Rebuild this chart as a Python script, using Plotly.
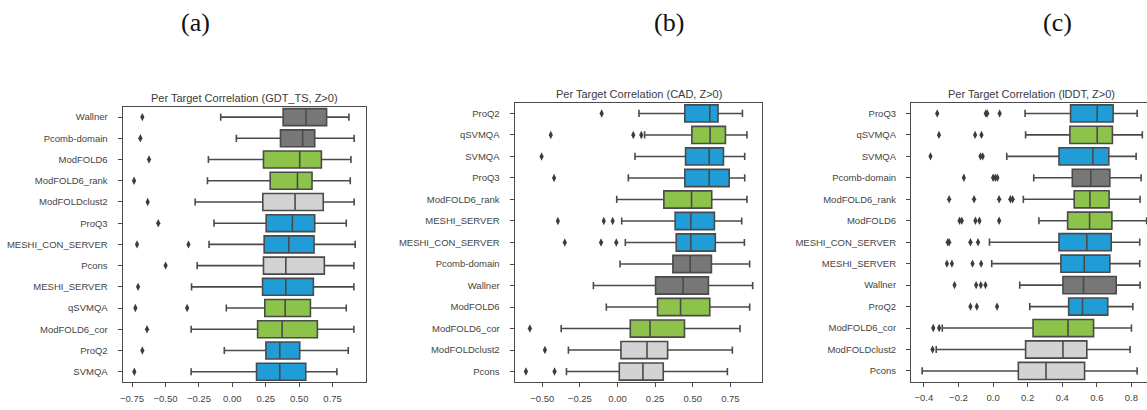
import plotly.graph_objects as go

# ---------------- data ----------------
# Panel (a): GDT_TS
cats_a = ["Wallner", "Pcomb-domain", "ModFOLD6", "ModFOLD6_rank", "ModFOLDclust2", "ProQ3",
          "MESHI_CON_SERVER", "Pcons", "MESHI_SERVER", "qSVMQA", "ModFOLD6_cor", "ProQ2", "SVMQA"]
lo_a  = [-0.087, 0.030, -0.179, -0.186, -0.278, -0.137, -0.174, -0.263, -0.305, -0.045, -0.308, -0.060, -0.308]
q1_a  = [0.380, 0.360, 0.233, 0.283, 0.228, 0.253, 0.238, 0.233, 0.226, 0.243, 0.189, 0.251, 0.181]
med_a = [0.551, 0.526, 0.504, 0.487, 0.469, 0.449, 0.422, 0.400, 0.400, 0.395, 0.372, 0.355, 0.355]
q3_a  = [0.705, 0.616, 0.666, 0.596, 0.680, 0.616, 0.611, 0.688, 0.606, 0.584, 0.636, 0.504, 0.549]
hi_a  = [0.872, 0.911, 0.887, 0.882, 0.911, 0.852, 0.919, 0.909, 0.909, 0.852, 0.909, 0.867, 0.782]
out_a = [[-0.673], [-0.688], [-0.623], [-0.735], [-0.633], [-0.554], [-0.713, -0.328], [-0.499],
         [-0.705], [-0.725, -0.338], [-0.638], [-0.673], [-0.733]]

# Panel (b): CAD
cats_b = ["ProQ2", "qSVMQA", "SVMQA", "ProQ3", "ModFOLD6_rank", "MESHI_SERVER", "MESHI_CON_SERVER",
          "Pcomb-domain", "Wallner", "ModFOLD6", "ModFOLD6_cor", "ModFOLDclust2", "Pcons"]
lo_b  = [0.143, 0.180, 0.116, 0.072, -0.005, 0.028, 0.052, 0.017, -0.160, -0.074, -0.374, -0.326, -0.339]
q1_b  = [0.447, 0.494, 0.452, 0.447, 0.308, 0.383, 0.390, 0.368, 0.253, 0.266, 0.085, 0.023, 0.012]
med_b = [0.613, 0.615, 0.609, 0.609, 0.492, 0.487, 0.487, 0.483, 0.436, 0.419, 0.216, 0.196, 0.169]
q3_b  = [0.668, 0.717, 0.704, 0.742, 0.626, 0.644, 0.650, 0.624, 0.604, 0.613, 0.445, 0.333, 0.304]
hi_b  = [0.830, 0.860, 0.845, 0.845, 0.860, 0.825, 0.843, 0.878, 0.898, 0.878, 0.814, 0.763, 0.730]
out_b = [[-0.105], [-0.443, 0.105, 0.158], [-0.504], [-0.421], [], [-0.396, -0.091, -0.032],
         [-0.350, -0.109, -0.008], [], [], [], [-0.582], [-0.482], [-0.608, -0.418]]

# Panel (c): lDDT
cats_c = ["ProQ3", "qSVMQA", "SVMQA", "Pcomb-domain", "ModFOLD6_rank", "ModFOLD6", "MESHI_CON_SERVER",
          "MESHI_SERVER", "Wallner", "ProQ2", "ModFOLD6_cor", "ModFOLDclust2", "Pcons"]
lo_c  = [0.185, 0.188, 0.079, 0.235, 0.175, 0.265, -0.021, -0.008, 0.154, 0.212, -0.294, -0.329, -0.410]
q1_c  = [0.448, 0.444, 0.381, 0.458, 0.469, 0.431, 0.381, 0.392, 0.404, 0.437, 0.231, 0.188, 0.146]
med_c = [0.602, 0.602, 0.577, 0.565, 0.560, 0.558, 0.542, 0.527, 0.523, 0.517, 0.433, 0.404, 0.306]
q3_c  = [0.694, 0.690, 0.669, 0.675, 0.671, 0.687, 0.683, 0.675, 0.712, 0.663, 0.581, 0.542, 0.529]
hi_c  = [0.833, 0.863, 0.827, 0.856, 0.850, 0.888, 0.848, 0.848, 0.850, 0.808, 0.800, 0.792, 0.833]
out_c = [[-0.323, -0.042, -0.034, 0.038], [-0.313, -0.104, -0.067], [-0.362, -0.073, -0.060],
         [-0.169, 0.000, 0.013, 0.025], [-0.254, -0.110, 0.035, 0.100, 0.113],
         [-0.194, -0.181, -0.102, -0.079, 0.035], [-0.262, -0.254, -0.131, -0.087],
         [-0.267, -0.238, -0.119, -0.069], [-0.223, -0.098, -0.071, -0.044],
         [-0.131, -0.094, 0.023], [-0.346, -0.312], [-0.350], []]

titles = ["Per Target Correlation (GDT_TS, Z>0)", "Per Target Correlation (CAD, Z>0)",
          "Per Target Correlation (lDDT, Z>0)"]
panel_labels = ["(a)", "(b)", "(c)"]

# method colour groups
BLUE, GREEN, DGRAY, LGRAY = "#209DD6", "#8DC34A", "#777777", "#D3D3D3"
method_color = {
    "Wallner": DGRAY, "Pcomb-domain": DGRAY,
    "ModFOLD6": GREEN, "ModFOLD6_rank": GREEN, "ModFOLD6_cor": GREEN, "qSVMQA": GREEN,
    "ModFOLDclust2": LGRAY, "Pcons": LGRAY,
    "ProQ3": BLUE, "ProQ2": BLUE, "MESHI_CON_SERVER": BLUE, "MESHI_SERVER": BLUE, "SVMQA": BLUE,
}

# ---------------- figure ----------------
W, H = 1147, 410
EDGE = "#4A4A4A"
fig = go.Figure()

panels = [
    (cats_a, lo_a, q1_a, med_a, q3_a, hi_a, out_a),
    (cats_b, lo_b, q1_b, med_b, q3_b, hi_b, out_b),
    (cats_c, lo_c, q1_c, med_c, q3_c, hi_c, out_c),
]

# layout geometry (pixels)
geo = [
    dict(x0=120, x1=364, y0=106.5, y1=382.3, xr=[-0.82, 1.0], fmt=".2f",
         tv=[-0.75, -0.5, -0.25, 0, 0.25, 0.5, 0.75], lab=193, tx=242.5, ty=97.7),
    dict(x0=513, x1=761, y0=102.7, y1=382.3, xr=[-0.683, 0.96], fmt=".2f",
         tv=[-0.5, -0.25, 0, 0.25, 0.5, 0.75], lab=668, tx=638, ty=94),
    dict(x0=910.5, x1=1147, y0=102.7, y1=381.7, xr=[-0.474, 0.89], fmt=".1f",
         tv=[-0.4, -0.2, 0, 0.2, 0.4, 0.6, 0.8], lab=1057, tx=1031, ty=94),
]

for i, (cats, lo, q1, med, q3, hi, outs) in enumerate(panels):
    xa = "x" if i == 0 else f"x{i+1}"
    ya = "y" if i == 0 else f"y{i+1}"
    for j, c in enumerate(cats):
        fig.add_trace(go.Box(
            orientation="h", y=[c], q1=[q1[j]], median=[med[j]], q3=[q3[j]],
            lowerfence=[lo[j]], upperfence=[hi[j]],
            fillcolor=method_color[c], line=dict(color=EDGE, width=1.6),
            width=0.8, whiskerwidth=0.42, boxpoints=False,
            xaxis=xa, yaxis=ya, showlegend=False, hoverinfo="skip",
        ))
    ox, oy = [], []
    for j, c in enumerate(cats):
        for v in outs[j]:
            ox.append(v)
            oy.append(c)
    fig.add_trace(go.Scatter(
        x=ox, y=oy, mode="markers",
        marker=dict(symbol="diamond-tall", size=6, color="#3C3C3C"),
        xaxis=xa, yaxis=ya, showlegend=False, hoverinfo="skip",
    ))

layout = dict(width=W, height=H, margin=dict(l=0, r=0, t=0, b=0),
              paper_bgcolor="white", plot_bgcolor="white", boxmode="overlay",
              font=dict(family="Liberation Sans, Arial, sans-serif", color="#404040"))
annotations = []
for i, g in enumerate(geo):
    sx = "" if i == 0 else str(i + 1)
    cats = panels[i][0]
    layout["xaxis" + sx] = dict(
        domain=[g["x0"] / W, g["x1"] / W], anchor="y" + sx, range=g["xr"],
        tickvals=g["tv"], tickformat=g["fmt"], ticks="outside", ticklen=4,
        tickcolor=EDGE, tickwidth=1.2, showline=True, linecolor=EDGE, linewidth=1.3,
        mirror=True, showgrid=False, zeroline=False,
        tickfont=dict(size=9.5, color="#444444"), ticklabelstandoff=3,
    )
    layout["yaxis" + sx] = dict(
        domain=[(H - g["y1"]) / H, (H - g["y0"]) / H], anchor="x" + sx,
        type="category", categoryorder="array", categoryarray=cats,
        range=[len(cats) - 0.5, -0.5], ticks="outside", ticklen=4,
        tickcolor=EDGE, tickwidth=1.2, showline=True, linecolor=EDGE, linewidth=1.3,
        mirror=(i != 2), showgrid=False, zeroline=False,
        tickfont=dict(size=9.5, color="#444444"), ticklabelstandoff=8,
    )
    annotations.append(dict(
        text=titles[i], x=g["tx"] / W, y=(H - g["ty"]) / H, xref="paper", yref="paper",
        xanchor="center", yanchor="middle", showarrow=False,
        font=dict(size=11, color="#3A3A3A"),
    ))
    annotations.append(dict(
        text=panel_labels[i], x=g["lab"] / W, y=(H - 22) / H, xref="paper", yref="paper",
        xanchor="center", yanchor="middle", showarrow=False,
        font=dict(size=26, color="#111111", family="Liberation Serif, Times New Roman, serif"),
    ))
layout["annotations"] = annotations
fig.update_layout(**layout)

fig.write_html("out.html")
